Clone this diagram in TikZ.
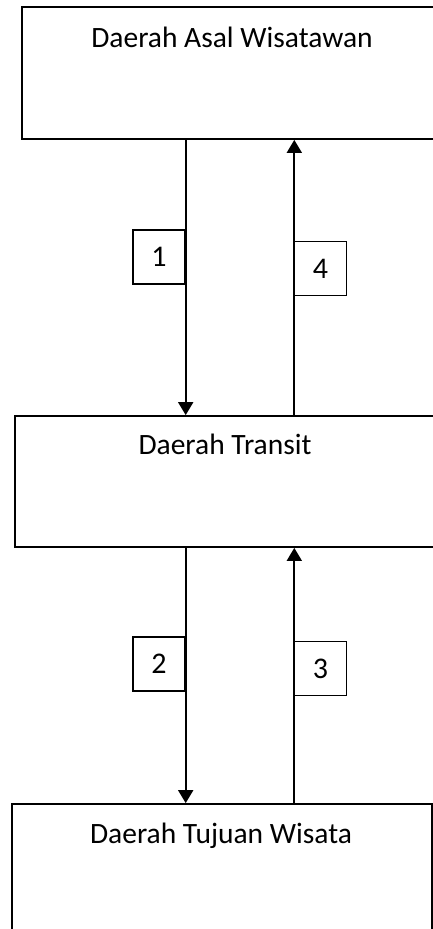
\documentclass[tikz,border=0pt]{standalone}
\usepackage{fontspec}
\setmainfont{Carlito}
\usetikzlibrary{arrows.meta}
\begin{document}
\begin{tikzpicture}[x=1pt,y=-1pt,
  region/.style={draw=black,line width=1.8pt,rectangle,inner sep=0pt},
  title/.style={anchor=base,inner sep=0pt,font=\fontsize{29.5}{31}\selectfont},
  numbox/.style={draw=black,line width=1.1pt,rectangle,inner sep=0pt,
    minimum width=52pt,minimum height=54pt,font=\fontsize{30}{32}\selectfont},
  flow/.style={line width=1.8pt,-{Triangle[length=13pt,width=15pt]}}]
  \useasboundingbox (0,0) rectangle (433,929);
  \clip (0,0) rectangle (433,929);

  % the three regions
  \node[region,minimum width=428pt,minimum height=132pt] (asal) at (236,73) {};
  \node[region,minimum width=434pt,minimum height=131pt] (transit) at (232,481.5) {};
  \node[region,minimum width=420pt,minimum height=160pt] (tujuan) at (222,884) {};

  \node[title] (asalT) at (232,47) {Daerah Asal Wisatawan};
  \node[title] (transitT) at (225,454) {Daerah Transit};
  \node[title] (tujuanT) at (221,843) {Daerah Tujuan Wisata};

  % columns of the outbound and return flows
  \coordinate (lx) at (185.7,0);
  \coordinate (rx) at (294.3,0);

  \draw[flow] (asal.south -| lx) -- (transit.north -| lx);
  \draw[flow] (transit.north -| rx) -- (asal.south -| rx);
  \draw[flow] (transit.south -| lx) -- (tujuan.north -| lx);
  \draw[flow] (tujuan.north -| rx) -- (transit.south -| rx);

  % step numbers
  \node[numbox] (n1) at (159,257) {1};
  \node[numbox] (n4) at (320.5,268.5) {4};
  \node[numbox] (n2) at (159,664) {2};
  \node[numbox] (n3) at (320.5,668.5) {3};
\end{tikzpicture}
\end{document}
